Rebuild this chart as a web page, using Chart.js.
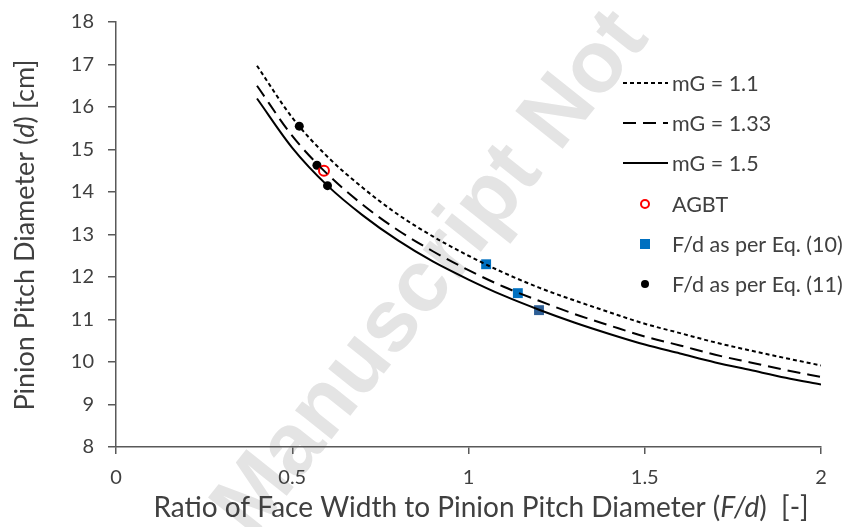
<!DOCTYPE html>
<html>
<head>
<meta charset="utf-8">
<script src="https://cdn.jsdelivr.net/npm/chart.js@4.4.1/dist/chart.umd.min.js"></script>
<style>
  html, body { margin: 0; padding: 0; background: #fff; }
  #wrap { width: 849px; height: 527px; }
</style>
</head>
<body>
<div id="wrap"><canvas id="chart" width="849" height="527"></canvas></div>
<script>
// curve values
const ratios = [0.4, 0.5, 0.6, 0.7, 0.8, 0.9, 1.0, 1.1, 1.2, 1.3, 1.4, 1.5, 1.6, 1.7, 1.8, 1.9, 2.0];
const mg110 = [16.97, 15.75, 14.83, 14.10, 13.47, 12.95, 12.50, 12.10, 11.75, 11.45, 11.17, 10.90, 10.68, 10.46, 10.27, 10.09, 9.92];
const mg133 = [16.50, 15.32, 14.42, 13.70, 13.10, 12.60, 12.16, 11.77, 11.44, 11.13, 10.86, 10.60, 10.39, 10.17, 9.99, 9.81, 9.65];
const mg150 = [16.20, 15.04, 14.15, 13.45, 12.86, 12.36, 11.94, 11.56, 11.23, 10.93, 10.66, 10.41, 10.20, 9.99, 9.81, 9.63, 9.47];

const agbtX = [0.59];
const agbtY = [14.5];
const eq10X = [1.05, 1.14, 1.20];
const eq10Y = [12.30, 11.62, 11.22];
const eq11X = [0.52, 0.57, 0.60];
const eq11Y = [15.55, 14.63, 14.15];

const xTicks = [0, 0.5, 1, 1.5, 2];
const yTicks = [8, 9, 10, 11, 12, 13, 14, 15, 16, 17, 18];

const FONT = 'Lato, "Open Sans", sans-serif';
const TXT = '#404040';

function pairs(xs, ys) {
    return xs.map((x, i) => ({ x: x, y: ys[i] }));
}

const curveStyle = {
    showLine: true,
    pointRadius: 0,
    borderColor: '#000',
    borderWidth: 2,
    fill: false,
    cubicInterpolationMode: 'monotone'
};

const datasets = [
    Object.assign({ label: 'mG = 1.1', data: pairs(ratios, mg110), borderDash: [4, 3] }, curveStyle),
    Object.assign({ label: 'mG = 1.33', data: pairs(ratios, mg133), borderDash: [13, 7] }, curveStyle),
    Object.assign({ label: 'mG = 1.5', data: pairs(ratios, mg150), borderDash: [] }, curveStyle),
    {
        label: 'AGBT', data: pairs(agbtX, agbtY), showLine: false,
        pointStyle: 'circle', pointRadius: 5, pointBorderWidth: 2,
        pointBorderColor: '#ff0000', pointBackgroundColor: '#ffffff'
    },
    {
        label: 'F/d as per Eq. (10)', data: pairs(eq10X, eq10Y), showLine: false,
        pointStyle: 'rect', pointRadius: 7, pointBorderWidth: 0,
        pointBorderColor: ['#0070C0', '#0070C0', '#2E5F96'],
        pointBackgroundColor: ['#0070C0', '#0070C0', '#2E5F96']
    },
    {
        label: 'F/d as per Eq. (11)', data: pairs(eq11X, eq11Y), showLine: false,
        pointStyle: 'circle', pointRadius: 4.5, pointBorderWidth: 0,
        pointBorderColor: '#000', pointBackgroundColor: '#000'
    }
];

// faint watermark behind everything
const watermark = {
    id: 'watermark',
    beforeDraw(chart) {
        const ctx = chart.ctx;
        ctx.save();
        ctx.translate(432, 274);
        ctx.rotate(-51.5 * Math.PI / 180);
        ctx.font = 'bold 88px "Liberation Sans", Arial, sans-serif';
        ctx.fillStyle = '#e4e4e4';
        ctx.textAlign = 'center';
        ctx.textBaseline = 'middle';
        ctx.fillText('Manuscript Not', 0, 0);
        ctx.restore();
    }
};

// draw a title made of plain and italic parts
function drawParts(ctx, parts, cx, cy, size) {
    let total = 0;
    parts.forEach(p => {
        ctx.font = (p.it ? 'italic ' : '') + size + 'px ' + FONT;
        p.w = ctx.measureText(p.t).width;
        total += p.w;
    });
    let x = cx - total / 2;
    parts.forEach(p => {
        ctx.font = (p.it ? 'italic ' : '') + size + 'px ' + FONT;
        ctx.fillText(p.t, x, cy);
        x += p.w;
    });
}

const titles = {
    id: 'titles',
    afterDraw(chart) {
        const ctx = chart.ctx;
        ctx.save();
        ctx.fillStyle = TXT;
        ctx.textBaseline = 'alphabetic';
        ctx.textAlign = 'left';
        drawParts(ctx, [
            { t: 'Ratio of Face Width to Pinion Pitch Diameter (' },
            { t: 'F/d', it: true },
            { t: ')  [-]' }
        ], 481, 517, 28);
        ctx.translate(34, 235);
        ctx.rotate(-Math.PI / 2);
        drawParts(ctx, [
            { t: 'Pinion Pitch Diameter (' },
            { t: 'd', it: true },
            { t: ') [cm]' }
        ], 0, 0, 27);
        ctx.restore();
    }
};

// legend inside the plot, using each dataset's own style
const legendBox = {
    id: 'legendBox',
    afterDraw(chart) {
        const ctx = chart.ctx;
        const rows = [83, 123, 163, 204, 244, 284];
        ctx.save();
        chart.data.datasets.forEach((ds, i) => {
            const y = rows[i];
            if (ds.showLine) {
                ctx.beginPath();
                ctx.strokeStyle = ds.borderColor;
                ctx.lineWidth = 2;
                ctx.setLineDash(ds.borderDash);
                ctx.moveTo(623, y);
                ctx.lineTo(668, y);
                ctx.stroke();
                ctx.setLineDash([]);
            } else {
                const bg = Array.isArray(ds.pointBackgroundColor) ? ds.pointBackgroundColor[0] : ds.pointBackgroundColor;
                const bc = Array.isArray(ds.pointBorderColor) ? ds.pointBorderColor[0] : ds.pointBorderColor;
                ctx.fillStyle = bg;
                ctx.strokeStyle = bc;
                ctx.lineWidth = ds.pointBorderWidth;
                if (ds.pointStyle === 'rect') {
                    ctx.fillRect(640, y - 5, 10, 10);
                } else {
                    ctx.beginPath();
                    ctx.arc(645, y, 4, 0, Math.PI * 2);
                    ctx.fill();
                    if (ds.pointBorderWidth) ctx.stroke();
                }
            }
            ctx.fillStyle = TXT;
            ctx.font = '21.5px ' + FONT;
            ctx.textBaseline = 'middle';
            ctx.textAlign = 'left';
            ctx.fillText(ds.label, 672, y + 1);
        });
        ctx.restore();
    }
};

new Chart(document.getElementById('chart'), {
    type: 'line',
    data: { datasets: datasets },
    options: {
        responsive: false,
        animation: false,
        layout: { padding: { top: 22, right: 28, left: 0, bottom: 0 } },
        plugins: {
            legend: { display: false },
            tooltip: { enabled: false }
        },
        scales: {
            x: {
                type: 'linear',
                min: 0, max: 2,
                afterBuildTicks: s => { s.ticks = xTicks.map(v => ({ value: v })); },
                afterFit: s => { s.height = 80; },
                border: { color: '#595959', width: 1.5 },
                grid: { drawOnChartArea: false, tickLength: 7, color: '#595959', lineWidth: 1.5 },
                ticks: {
                    color: TXT, font: { family: FONT, size: 20 }, padding: 12, maxRotation: 0,
                    callback: v => String(v)
                }
            },
            y: {
                type: 'linear',
                min: 8, max: 18,
                afterBuildTicks: s => { s.ticks = yTicks.map(v => ({ value: v })); },
                afterFit: s => { s.width = 116; s.paddingTop = 0; },
                border: { color: '#595959', width: 1.5 },
                grid: { drawOnChartArea: false, tickLength: 8, color: '#595959', lineWidth: 1.5 },
                ticks: { color: TXT, font: { family: FONT, size: 20, lineHeight: 1 }, padding: 14 }
            }
        }
    },
    plugins: [watermark, titles, legendBox]
});
</script>
</body>
</html>
